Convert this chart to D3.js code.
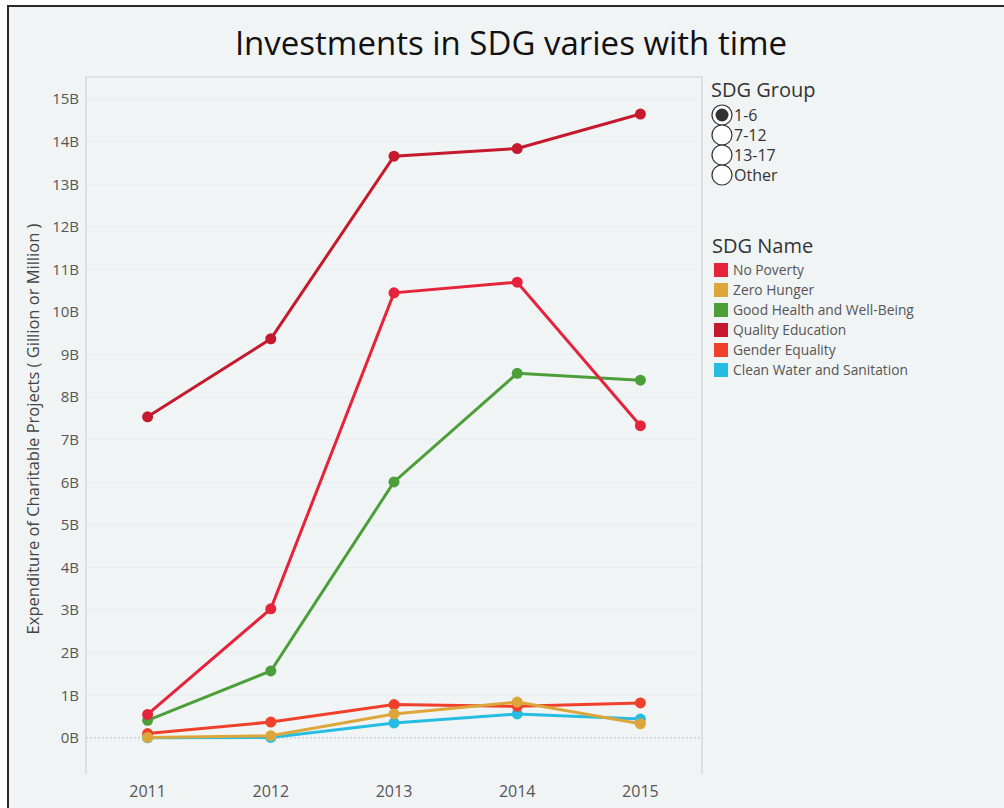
<!DOCTYPE html>
<html><head><meta charset="utf-8">
<script src="https://cdn.jsdelivr.net/npm/d3@7"></script>
<style>body{margin:0;background:#fff}svg{display:block}</style>
</head><body>
<svg id="c" width="1004" height="808"></svg>
<script>
const years = ["2011","2012","2013","2014","2015"];
const seriesNames = ["No Poverty","Zero Hunger","Good Health and Well-Being","Quality Education","Gender Equality","Clean Water and Sanitation"];
const seriesColors = ["#e5243b","#dda63a","#4c9f38","#c5192d","#ef402b","#26bde2"];
const noPoverty   = [0.55, 3.03, 10.45, 10.70, 7.33];
const zeroHunger  = [0.01, 0.05, 0.56, 0.84, 0.33];
const goodHealth  = [0.41, 1.57, 6.01, 8.56, 8.40];
const qualityEdu  = [7.54, 9.37, 13.66, 13.84, 14.65];
const genderEq    = [0.10, 0.37, 0.78, 0.74, 0.82];
const cleanWater  = [0.00, 0.01, 0.35, 0.56, 0.44];
const yTicks = [0,1,2,3,4,5,6,7,8,9,10,11,12,13,14,15];
const groupOptions = ["1-6","7-12","13-17","Other"];
const drawOrder = [5,4,3,2,0,1];
const values = [noPoverty, zeroHunger, goodHealth, qualityEdu, genderEq, cleanWater];

const svg = d3.select("#c");
const font = "'Open Sans', 'Noto Sans', sans-serif";
svg.append("rect").attr("x",0).attr("y",0).attr("width",1004).attr("height",808).attr("fill","#ffffff");
svg.append("rect").attr("x",8).attr("y",6).attr("width",1010).attr("height",820)
  .attr("fill","#f1f4f5").attr("stroke","#2a2a2a").attr("stroke-width",2);

const L=86,R=702,T=77,B=774;
const x = d3.scaleBand().domain(years).range([L,R]);
const y = d3.scaleLinear().domain([-0.85,15.52]).range([B,T]);

// gridlines
svg.append("g").selectAll("line").data(yTicks.filter(d=>d!==0)).join("line")
  .attr("x1",L).attr("x2",R).attr("y1",d=>y(d)).attr("y2",d=>y(d))
  .attr("stroke","#e9edef").attr("stroke-width",1);
svg.append("line").attr("x1",L).attr("x2",R).attr("y1",y(0)).attr("y2",y(0))
  .attr("stroke","#b8bcbe").attr("stroke-width",1).attr("stroke-dasharray","2,2");
// plot frame (left, top, right)
svg.append("path").attr("d",`M${L},${B}V${T}H${R}V${B}`).attr("fill","none").attr("stroke","#cfd2d4").attr("stroke-width",1.2);

// axes
const yAxis = svg.append("g").attr("transform",`translate(${L},0)`)
  .call(d3.axisLeft(y).tickValues(yTicks).tickFormat(d=>d+"B").tickSize(0).tickPadding(7));
yAxis.select(".domain").remove();
yAxis.selectAll("text").attr("font-family",font).attr("font-size",15).attr("fill","#555");
const xAxis = svg.append("g").attr("transform",`translate(0,${B})`)
  .call(d3.axisBottom(x).tickSize(0).tickPadding(12));
xAxis.select(".domain").remove();
xAxis.selectAll("text").attr("font-family",font).attr("font-size",16).attr("fill","#555");

svg.append("text").attr("transform",`translate(39,429) rotate(-90)`)
  .attr("text-anchor","middle").attr("font-family",font).attr("font-size",16.5).attr("fill","#444")
  .text("Expenditure of Charitable Projects ( Gillion or Million )");

svg.append("text").attr("x",511).attr("y",55).attr("text-anchor","middle")
  .attr("font-family",font).attr("font-size",33).attr("fill","#111")
  .text("Investments in SDG varies with time");

const line = d3.line().x((d,i)=>x(years[i])+x.bandwidth()/2).y(d=>y(d));
drawOrder.forEach(k=>{
  const g = svg.append("g");
  g.append("path").datum(values[k]).attr("d",line).attr("fill","none")
    .attr("stroke",seriesColors[k]).attr("stroke-width",3);
  g.selectAll("circle").data(values[k]).join("circle")
    .attr("cx",(d,i)=>x(years[i])+x.bandwidth()/2).attr("cy",d=>y(d)).attr("r",5.5)
    .attr("fill",seriesColors[k]);
});

// legend: SDG Group
svg.append("text").attr("x",711).attr("y",97).attr("font-family",font).attr("font-size",20).attr("fill","#333").text("SDG Group");
const rg = svg.append("g").selectAll("g").data(groupOptions).join("g")
  .attr("transform",(d,i)=>`translate(722,${115+i*20})`);
rg.append("circle").attr("r",10).attr("fill","#fff").attr("stroke","#333").attr("stroke-width",1.2);
rg.filter((d,i)=>i===0).append("circle").attr("r",6.5).attr("fill","#333");
rg.append("text").attr("x",12).attr("y",6).attr("font-family",font).attr("font-size",16).attr("fill","#333").text(d=>d);

// legend: SDG Name
svg.append("text").attr("x",712).attr("y",253).attr("font-family",font).attr("font-size",20).attr("fill","#333").text("SDG Name");
const lg = svg.append("g").selectAll("g").data(seriesNames).join("g")
  .attr("transform",(d,i)=>`translate(714,${263+i*20})`);
lg.append("rect").attr("width",14).attr("height",14).attr("fill",(d,i)=>seriesColors[i]);
lg.append("text").attr("x",19).attr("y",12).attr("font-family",font).attr("font-size",13.8).attr("fill","#555").text(d=>d);
</script>
</body></html>
